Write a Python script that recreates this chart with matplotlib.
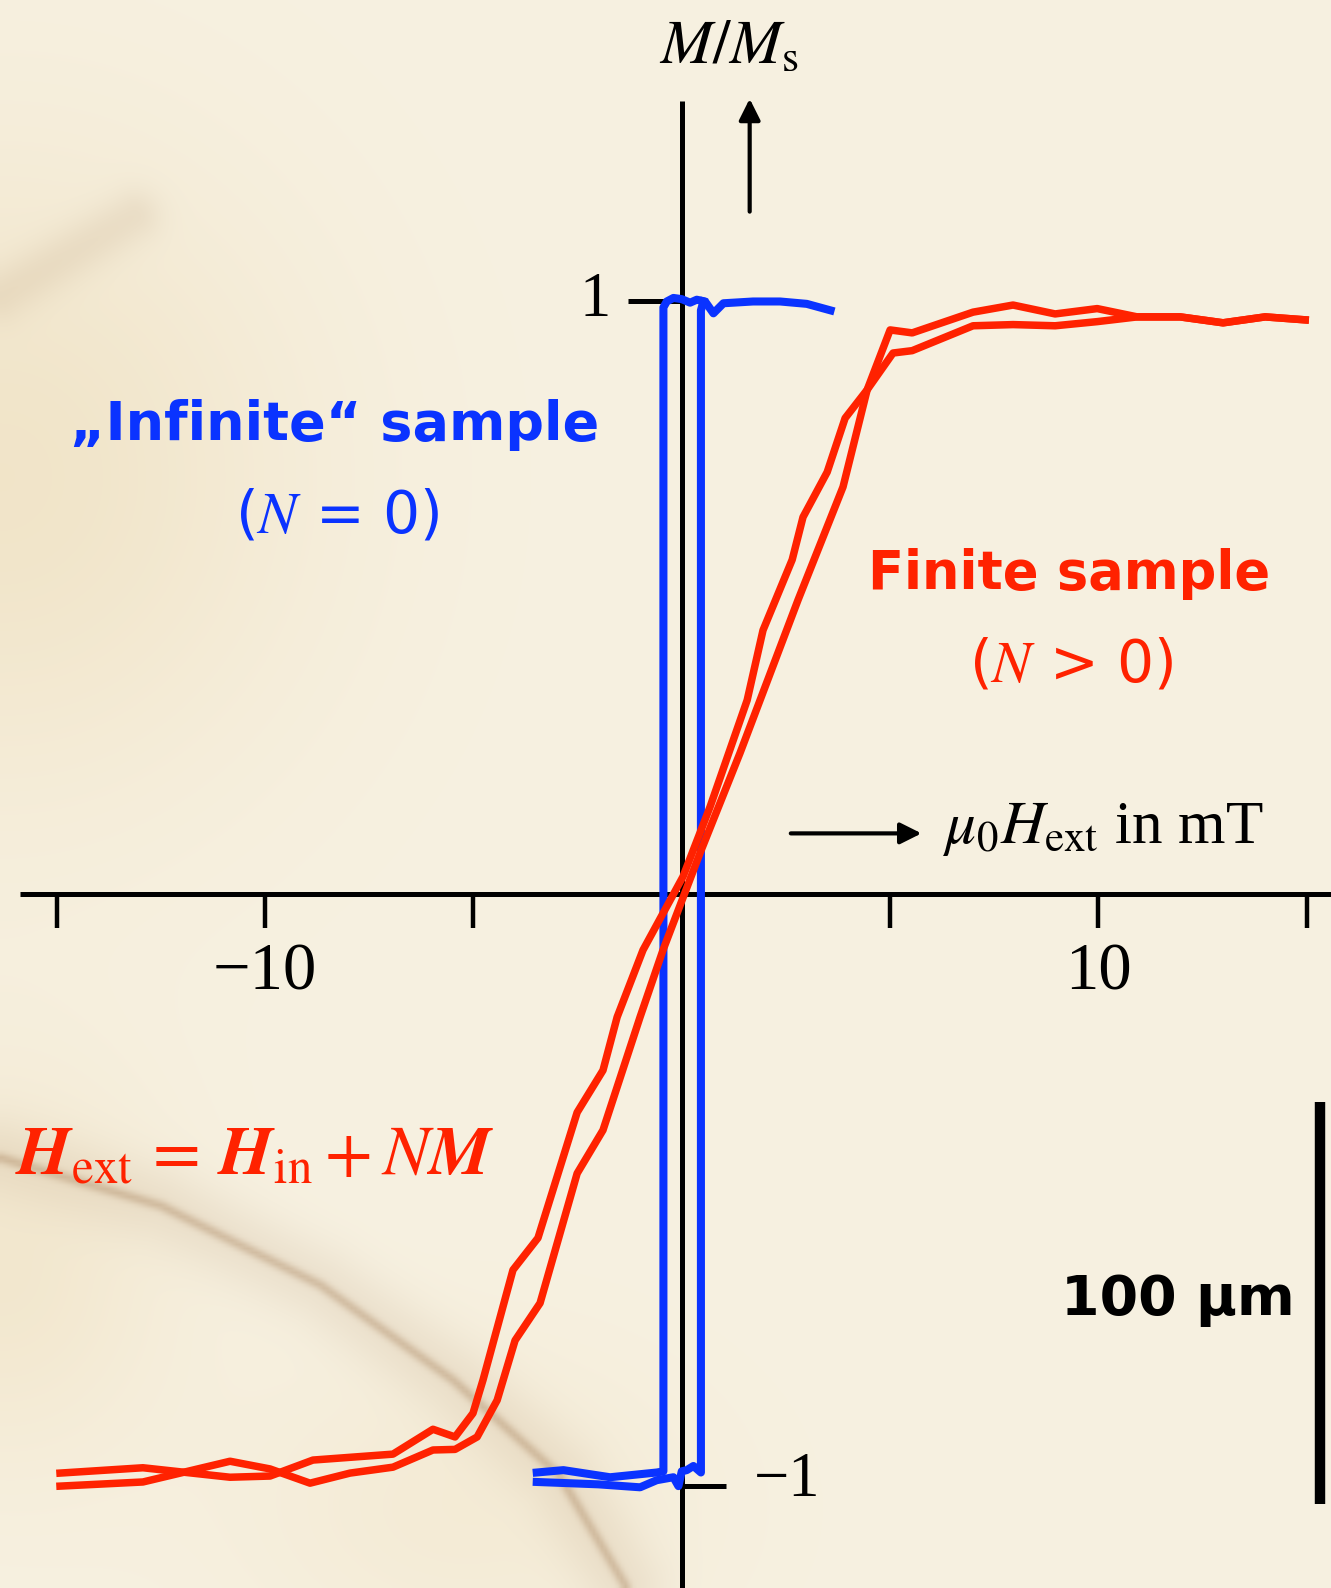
import numpy as np
import matplotlib.pyplot as plt

plt.rcParams['mathtext.fontset'] = 'stix'

# --- Daten: mu0*H_ext (mT) und M/Ms ---
# endliche Probe, linker Ast (abnehmendes Feld)
finite_h_left = [-14.92, -12.93, -10.84, -9.88, -8.85, -6.93, -5.97, -5.44, -5.01, -4.77,
                 -4.05, -3.45, -2.51, -1.89, -1.55, -0.93, 0.03, 0.68, 1.57, 1.95, 2.65,
                 2.91, 3.49, 3.92, 4.45, 5.00, 5.53, 6.99, 7.95, 8.96, 9.97, 10.93, 11.96,
                 12.99, 14.00, 14.96]
finite_m_left = [-0.978, -0.969, -0.985, -0.983, -0.956, -0.946, -0.904, -0.917, -0.877, -0.821,
                 -0.635, -0.581, -0.369, -0.298, -0.208, -0.095, 0.029, 0.147, 0.327, 0.445, 0.564,
                 0.636, 0.712, 0.803, 0.851, 0.952, 0.947, 0.982, 0.994, 0.979, 0.988, 0.974, 0.974,
                 0.964, 0.974, 0.969]
# endliche Probe, rechter Ast (zunehmendes Feld)
finite_h_right = [-14.92, -12.93, -10.84, -9.88, -8.92, -7.96, -6.93, -5.97, -5.44, -4.91,
                  -4.43, -4.00, -3.40, -2.51, -1.89, -1.00, -0.45, 0.44, 1.40, 2.79, 3.87,
                  4.45, 5.07, 5.53, 6.99, 7.95, 8.96, 9.97, 10.93, 11.96, 12.99, 14.00, 14.96]
finite_m_right = [-1.000, -0.993, -0.958, -0.971, -0.995, -0.978, -0.968, -0.939, -0.938, -0.917,
                  -0.855, -0.754, -0.691, -0.472, -0.399, -0.208, -0.095, 0.069, 0.238, 0.496, 0.687,
                  0.851, 0.913, 0.917, 0.959, 0.961, 0.959, 0.966, 0.974, 0.974, 0.964, 0.974, 0.969]

# "unendliche" Probe (N = 0), Rechteckschleife
inf_h_down = [3.57, 3.00, 2.36, 1.71, 1.00, 0.76, 0.56, 0.36, 0.20, 0.00, -0.20, -0.36, -0.44,
              -0.44, -0.60, -1.72, -2.84, -3.48]
inf_m_down = [0.985, 0.996, 1.000, 1.000, 0.997, 0.980, 1.000, 1.003, 0.998, 1.004, 1.006, 1.000,
              0.990, -0.975, -0.977, -0.985, -0.973, -0.977]
inf_h_up = [-3.48, -2.00, -1.00, -0.60, -0.20, -0.08, 0.00, 0.12, 0.28, 0.46, 0.46, 0.52]
inf_m_up = [-0.993, -0.997, -1.002, -0.990, -0.985, -1.000, -0.975, -0.973, -0.966, -0.977,
            0.985, 1.000]

x_ticks = [-15, -10, -5, 5, 10, 15]
x_ticklabels = {-10: '\u221210', 10: '10'}

RED = '#FF2200'
BLUE = '#0A33FF'
XMIN, XMAX = -16.36, 15.58
YMIN, YMAX = -1.172, 1.509

fig = plt.figure(figsize=(13.31, 15.88), dpi=100)
ax = fig.add_axes([0, 0, 1, 1])
ax.set_xlim(XMIN, XMAX)
ax.set_ylim(YMIN, YMAX)
ax.axis('off')

# Papierhintergrund (glatte Verläufe + Flecken)
ny, nx = 400, 335
u, v = np.meshgrid(np.linspace(0, 1, nx), np.linspace(0, 1, ny))
base = np.array([247, 241, 225], dtype=float)
yellow = np.array([238, 222, 188], dtype=float)
brown = np.array([160, 120, 80], dtype=float)
w = 0.65 * np.exp(-((u - 0.0) ** 2 / 0.05 + (v - 0.30) ** 2 / 0.04))
w += 0.50 * np.exp(-((u - 0.0) ** 2 / 0.015 + (v - 0.80) ** 2 / 0.015))
w += 0.30 * np.exp(-((u - 0.35) ** 2 / 0.03 + (v - 0.95) ** 2 / 0.01))
w = np.clip(w, 0, 1)
img = base[None, None, :] * (1 - w[..., None]) + yellow[None, None, :] * w[..., None]


def seg_dist(px, py, pts):
    d = np.full(px.shape, 10.0)
    for (x1, y1), (x2, y2) in zip(pts[:-1], pts[1:]):
        dx, dy = x2 - x1, y2 - y1
        t = np.clip(((px - x1) * dx + (py - y1) * dy) / (dx * dx + dy * dy), 0, 1)
        d = np.minimum(d, np.hypot(px - x1 - t * dx, py - y1 - t * dy))
    return d


bottom_streak = [(0.0, 0.73), (0.12, 0.76), (0.24, 0.81), (0.34, 0.87), (0.42, 0.93), (0.47, 1.0)]
streaks = [
    ([(0.10, 0.135), (0.05, 0.16), (0.0, 0.185)], 0.02, 0.12),
    (bottom_streak, 0.004, 0.35),
    (bottom_streak, 0.03, 0.12),
]
for pts, width, alpha in streaks:
    s = alpha * np.exp(-(seg_dist(u, v * 1.19, [(a, b * 1.19) for a, b in pts]) / width) ** 2)
    img = img * (1 - s[..., None]) + brown[None, None, :] * s[..., None]
ax.imshow(img / 255.0, extent=[XMIN, XMAX, YMIN, YMAX], aspect='auto', zorder=0,
          interpolation='bilinear')

# Achsen
ax.plot([-15.87, XMAX], [0, 0], color='black', lw=3.6, zorder=2, solid_capstyle='butt')
ax.plot([0, 0], [YMIN, 1.338], color='black', lw=3.6, zorder=2, solid_capstyle='butt')
for t in x_ticks:
    ax.plot([t, t], [0, -0.058], color='black', lw=3.2, zorder=2, solid_capstyle='butt')
    if t in x_ticklabels:
        ax.text(t, -0.133, x_ticklabels[t], fontsize=48, family='Liberation Serif',
                ha='center', va='center')
ax.plot([-1.29, 0], [1, 1], color='black', lw=3.6, zorder=2, solid_capstyle='butt')
ax.plot([0, 1.05], [-1, -1], color='black', lw=3.6, zorder=2, solid_capstyle='butt')
ax.text(-2.07, 1.0, '1', fontsize=45, family='Liberation Serif', ha='center', va='center')
ax.text(2.53, -0.991, '\u22121', fontsize=45, family='Liberation Serif', ha='center', va='center')

# Achsenbeschriftungen mit Pfeilen
ax.annotate('', xy=(1.63, 1.347), xytext=(1.63, 1.147),
            arrowprops=dict(arrowstyle='-|>', lw=3, color='black', mutation_scale=32))
ax.text(1.14, 1.432, r'$M/M_{\mathrm{s}}$', fontsize=45, ha='center', va='center')
ax.annotate('', xy=(5.82, 0.102), xytext=(2.55, 0.102),
            arrowprops=dict(arrowstyle='-|>', lw=3, color='black', mutation_scale=32))
ax.text(6.25, 0.110, r'$\mu_0H_{\mathrm{ext}}$ in mT', fontsize=44,
        family='Liberation Serif', ha='left', va='center')

# Kurven
ax.plot(inf_h_down, inf_m_down, color=BLUE, lw=5.8, zorder=3)
ax.plot(inf_h_up, inf_m_up, color=BLUE, lw=5.8, zorder=3)
ax.plot(finite_h_left, finite_m_left, color=RED, lw=5.4, zorder=4)
ax.plot(finite_h_right, finite_m_right, color=RED, lw=5.4, zorder=4)

# Beschriftungen
ax.text(-8.34, 0.791, '\u201eInfinite\u201c sample', fontsize=39, fontweight='bold',
        family='DejaVu Sans', color=BLUE, ha='center', va='center')
ax.text(-8.26, 0.637, r'($N$ = 0)', fontsize=42, family='DejaVu Sans', color=BLUE,
        ha='center', va='center')
ax.text(9.29, 0.540, 'Finite sample', fontsize=38, fontweight='bold',
        family='DejaVu Sans', color=RED, ha='center', va='center')
ax.text(9.36, 0.386, r'($N$ > 0)', fontsize=42, family='DejaVu Sans', color=RED,
        ha='center', va='center')
ax.text(-15.99, -0.441,
        r'$\mathbfit{H}_{\mathrm{ext}}\,=\,\mathbfit{H}_{\mathrm{in}}+N\mathbfit{M}$',
        fontsize=50, color=RED, ha='left', va='center')

# Maßstab
ax.text(11.91, -0.685, '100 \u03bcm', fontsize=40, fontweight='bold', family='DejaVu Sans',
        color='black', ha='center', va='center')
ax.plot([15.32, 15.32], [-0.352, -1.031], color='black', lw=7.5, solid_capstyle='butt')

fig.savefig('out.png', dpi=100)
